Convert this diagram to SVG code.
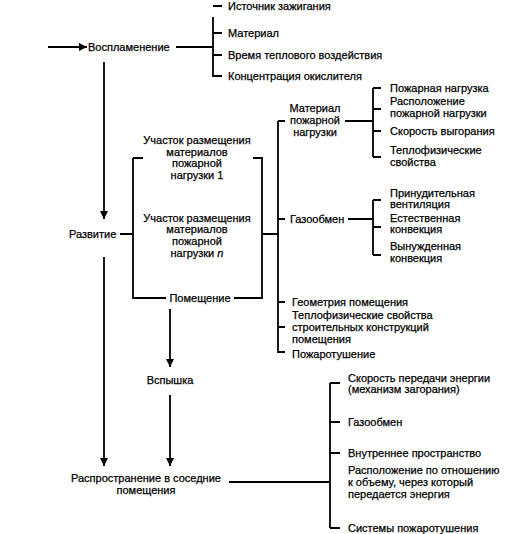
<svg xmlns="http://www.w3.org/2000/svg" width="507" height="534" viewBox="0 0 507 534">
<defs>
<style>
text{font-family:"Liberation Sans",Arial,sans-serif;font-size:11px;fill:#000;stroke:#000;stroke-width:0.25}
.c{text-anchor:middle}
.ln{stroke:#000;stroke-width:1.8;fill:none}
</style>
<marker id="ah" viewBox="0 0 10 10" refX="10" refY="5" markerWidth="10" markerHeight="8" markerUnits="userSpaceOnUse" orient="auto"><path d="M0,0L10,5L0,10z" fill="#000"/></marker>
</defs>
<rect width="507" height="534" fill="#fff"/>
<g id="connectors" class="ln">
<path d="M48,47H87" marker-end="url(#ah)"/>
<path d="M176,47H213M213,17V77M213,6H222M213,33H222M213,55H222M213,76H222"/>
<path d="M104,62V219" marker-end="url(#ah)"/>
<path d="M120,234H133M133,158V298H143M133,158H143M253,158H262V298H234M166,298H133"/>
<path d="M104,257V466" marker-end="url(#ah)"/>
<path d="M170,309V367" marker-end="url(#ah)"/>
<path d="M170,395V466" marker-end="url(#ah)"/>
<path d="M262,234H278M278,121V353M278,121H285M278,219H285M278,302H285M278,327H285M278,352H285"/>
<path d="M345,121H373M373,88V157M373,88H381M373,109H381M373,131H381M373,157H381"/>
<path d="M348,219H373M373,200V255M373,200H381M373,227H381M373,255H381"/>
<path d="M229,482H330M330,383V528M330,383H340M330,422H340M330,453H340M330,528H340"/>
</g>
<g id="n-vospl"><text x="88" y="51">Воспламенение</text></g>
<g id="n-ist"><text x="228" y="10">Источник зажигания</text></g>
<g id="n-mat"><text x="228" y="37">Материал</text></g>
<g id="n-vrem"><text x="228" y="59">Время теплового воздействия</text></g>
<g id="n-konc"><text x="228" y="80">Концентрация окислителя</text></g>
<g id="n-razv"><text x="69" y="238">Развитие</text></g>
<g id="n-uch1"><text class="c" x="197" y="144">Участок размещения</text><text class="c" x="197" y="156">материалов</text><text class="c" x="197" y="167">пожарной</text><text class="c" x="197" y="179">нагрузки 1</text></g>
<g id="n-uchn"><text class="c" x="197" y="222">Участок размещения</text><text class="c" x="197" y="233">материалов</text><text class="c" x="197" y="245">пожарной</text><text class="c" x="197" y="257">нагрузки <tspan font-style="italic">n</tspan></text></g>
<g id="n-pom"><text class="c" x="200" y="302">Помещение</text></g>
<g id="n-vsp"><text class="c" x="170" y="384">Вспышка</text></g>
<g id="n-rasp"><text class="c" x="146" y="482">Распространение в соседние</text><text class="c" x="146" y="494">помещения</text></g>
<g id="n-matpn"><text class="c" x="315" y="112">Материал</text><text class="c" x="315" y="124">пожарной</text><text class="c" x="315" y="136">нагрузки</text></g>
<g id="n-pn"><text x="390" y="92">Пожарная нагрузка</text></g>
<g id="n-rpn"><text x="390" y="105">Расположение</text><text x="390" y="117">пожарной нагрузки</text></g>
<g id="n-skv"><text x="390" y="135">Скорость выгорания</text></g>
<g id="n-tfs"><text x="390" y="154">Теплофизические</text><text x="390" y="166">свойства</text></g>
<g id="n-gaz1"><text x="290" y="223">Газообмен</text></g>
<g id="n-prv"><text x="390" y="197">Принудительная</text><text x="390" y="208">вентиляция</text></g>
<g id="n-estk"><text x="390" y="222">Естественная</text><text x="390" y="233">конвекция</text></g>
<g id="n-vynk"><text x="390" y="250">Вынужденная</text><text x="390" y="262">конвекция</text></g>
<g id="n-geom"><text x="292" y="306">Геометрия помещения</text></g>
<g id="n-tfsk"><text x="292" y="319">Теплофизические свойства</text><text x="292" y="331">строительных конструкций</text><text x="292" y="343">помещения</text></g>
<g id="n-pozh"><text x="292" y="358">Пожаротушение</text></g>
<g id="n-skpe"><text x="348" y="382">Скорость передачи энергии</text><text x="348" y="393">(механизм загорания)</text></g>
<g id="n-gaz2"><text x="348" y="426">Газообмен</text></g>
<g id="n-vnpr"><text x="348" y="457">Внутреннее пространство</text></g>
<g id="n-raspo"><text x="348" y="474">Расположение по отношению</text><text x="348" y="486">к объему, через который</text><text x="348" y="498">передается энергия</text></g>
<g id="n-sist"><text x="348" y="532">Системы пожаротушения</text></g>
</svg>
